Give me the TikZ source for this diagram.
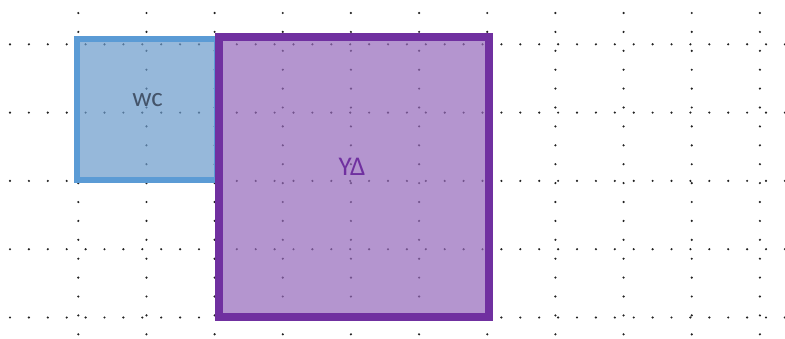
\documentclass[tikz,border=0pt]{standalone}
\usepackage{fontspec}
\setmainfont{Carlito}
\definecolor{gdot}{HTML}{222222}
\definecolor{wcline}{HTML}{5B9BD5}
\definecolor{wcfill}{HTML}{6A9ACB}
\definecolor{ydline}{HTML}{7030A0}
\definecolor{ydfill}{HTML}{9468BA}
\definecolor{wctext}{HTML}{44546A}
\tikzset{
  roombox/.style={rectangle, inner sep=0pt, outer sep=0pt, fill opacity=0.7, draw opacity=1},
  wcbox/.style={roombox, draw=wcline, fill=wcfill, line width=6bp},
  ydbox/.style={roombox, draw=ydline, fill=ydfill, line width=8bp},
  roomlabel/.style={inner sep=0pt, font=\fontsize{27bp}{32bp}\selectfont, anchor=base}
}
\begin{document}
\begin{tikzpicture}[x=1bp, y=-1bp]
\useasboundingbox (0,0) rectangle (785,338);
% dotted grid
\foreach \r in {0,...,4} {
  \foreach \k in {0,...,41} {
    \fill[gdot] ({10+18.9*\k},{44.3+68.3*\r}) circle (1.2bp);
  }
}
\foreach \c in {0,...,10} {
  \foreach \k in {0,...,17} {
    \fill[gdot] ({78.3+68.16*\c},{13+18.9*\k}) circle (1.2bp);
  }
}
% rooms
\node[wcbox, minimum width=140bp, minimum height=141.6bp] (wc) at (147,109.5) {};
\node[ydbox, minimum width=270bp, minimum height=280.2bp] (yd) at (354,176.6) {};
% labels
\node[roomlabel, text=wctext] (wct) at (147.5,106.7) {wc};
\node[roomlabel, text=ydline] (ydt) at (352,175) {ΥΔ};
\end{tikzpicture}
\end{document}
